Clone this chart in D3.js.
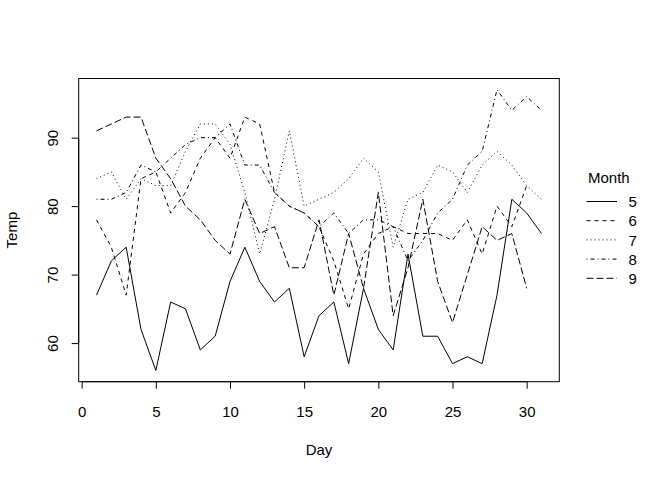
<!DOCTYPE html>
<html>
<head>
<meta charset="utf-8">
<script src="https://d3js.org/d3.v7.min.js"></script>
<style>
  body { margin: 0; background: #fff; }
  svg text { font-family: "Liberation Sans", Arial, sans-serif; font-size: 15px; fill: #000; }
</style>
</head>
<body>
<div id="main"></div>
<script>
// airquality Temp, by Month
var months = ["5", "6", "7", "8", "9"];
var may  = [67,72,74,62,56,66,65,59,61,69,74,69,66,68,58,64,66,57,68,62,59,73,61,61,57,58,57,67,81,79,76];
var june = [78,74,67,84,85,79,82,87,90,87,93,92,82,80,79,77,72,65,73,76,77,76,76,76,75,78,73,80,77,83];
var july = [84,85,81,84,83,83,88,92,92,89,82,73,81,91,80,81,82,84,87,85,74,81,82,86,85,82,86,88,86,83,81];
var aug  = [81,81,82,86,85,87,89,90,90,92,86,86,82,80,79,77,79,76,78,78,77,72,75,79,81,86,88,97,94,96,94];
var sept = [91,92,93,93,87,84,80,78,75,73,81,76,77,71,71,78,67,76,68,82,64,71,81,69,63,70,77,75,76,68];
var xTicks = [0, 5, 10, 15, 20, 25, 30];
var yTicks = [60, 70, 80, 90];

var series = [may, june, july, aug, sept];
var dashes = [null, "4,4", "1,3", "1,3,4,3", "7,3"];

var svg = d3.select("#main").append("svg")
    .attr("width", 672)
    .attr("height", 480);

var box = {left: 78.7, right: 559.3, top: 78.5, bottom: 381.7};

// R style 4% extension of the ranges
var xr = [1, 31], yr = [56, 97];
var xs = d3.scaleLinear()
    .domain([xr[0] - 0.04 * (xr[1] - xr[0]), xr[1] + 0.04 * (xr[1] - xr[0])])
    .range([box.left, box.right]);
var ys = d3.scaleLinear()
    .domain([yr[0] - 0.04 * (yr[1] - yr[0]), yr[1] + 0.04 * (yr[1] - yr[0])])
    .range([box.bottom, box.top]);

var line = d3.line()
    .x((d, i) => xs(i + 1))
    .y(d => ys(d));

series.forEach(function(s, k) {
  svg.append("path")
      .attr("d", line(s))
      .attr("fill", "none")
      .attr("stroke", "#000")
      .attr("stroke-width", 1)
      .attr("stroke-dasharray", dashes[k]);
});

// box
svg.append("rect")
    .attr("x", box.left).attr("y", box.top)
    .attr("width", box.right - box.left).attr("height", box.bottom - box.top)
    .attr("fill", "none").attr("stroke", "#000");

// axes (R draws the axis line only from first to last tick)
var xAxis = svg.append("g")
    .attr("transform", "translate(0," + box.bottom + ")")
    .call(d3.axisBottom(xs).tickValues(xTicks).tickSize(7).tickSizeOuter(0));
var yAxis = svg.append("g")
    .attr("transform", "translate(" + box.left + ",0)")
    .call(d3.axisLeft(ys).tickValues(yTicks).tickSize(7).tickSizeOuter(0));
xAxis.select(".domain").attr("d", "M" + xs(xTicks[0]) + ",0H" + xs(xTicks[xTicks.length - 1]));
yAxis.select(".domain").attr("d", "M0," + ys(yTicks[0]) + "V" + ys(yTicks[yTicks.length - 1]));
[xAxis, yAxis].forEach(function(a) {
  a.attr("font-size", null).attr("font-family", null);
  a.selectAll("line, path").attr("stroke", "#000");
});
xAxis.selectAll(".tick text")
    .attr("y", 35).attr("dy", null);
yAxis.selectAll(".tick text")
    .attr("x", null).attr("dy", null)
    .attr("text-anchor", "middle")
    .attr("transform", "translate(-20.4,0) rotate(-90)");

// axis titles
svg.append("text")
    .attr("x", (box.left + box.right) / 2).attr("y", 455)
    .attr("text-anchor", "middle")
    .text("Day");
svg.append("text")
    .attr("transform", "translate(17," + (box.top + box.bottom) / 2 + ") rotate(-90)")
    .attr("text-anchor", "middle")
    .text("Temp");

// legend
var lg = svg.append("g");
lg.append("text").attr("x", 588).attr("y", 182.7).text("Month");
months.forEach(function(m, k) {
  var y = 201.5 + k * 19.2;
  lg.append("line")
      .attr("x1", 586.5).attr("x2", 617)
      .attr("y1", y).attr("y2", y)
      .attr("stroke", "#000")
      .attr("stroke-dasharray", dashes[k]);
  lg.append("text")
      .attr("x", 628.5).attr("y", y + 5.6)
      .text(m);
});
</script>
</body>
</html>
